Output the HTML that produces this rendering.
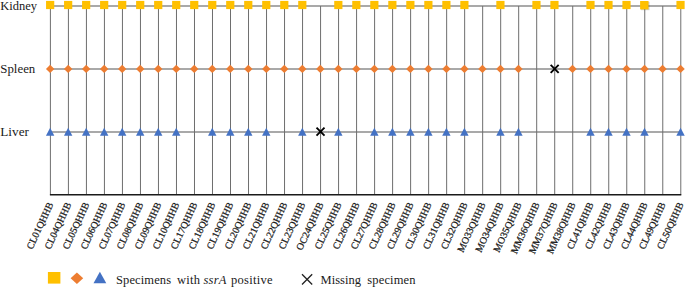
<!DOCTYPE html>
<html><head><meta charset="utf-8"><style>
html,body{margin:0;padding:0;background:#fff;}
body{width:685px;height:287px;overflow:hidden;}
svg{display:block;font-family:"Liberation Serif",serif;fill:#1a1a1a;}
text{fill:#1a1a1a;}
.xl{stroke:#1a1a1a;stroke-width:0.25px;}
</style></head><body>
<svg width="685" height="287" viewBox="0 0 685 287">
<line x1="50.4" y1="6.0" x2="680.785" y2="6.0" stroke="#a9a9a9" stroke-width="2.0"/>
<line x1="50.4" y1="69.0" x2="680.785" y2="69.0" stroke="#a9a9a9" stroke-width="2.0"/>
<line x1="50.4" y1="132.0" x2="680.785" y2="132.0" stroke="#a9a9a9" stroke-width="2.0"/>
<line x1="50.4" y1="6.0" x2="50.4" y2="194.75" stroke="#6e6e6e" stroke-width="1.0"/>
<line x1="68.411" y1="6.0" x2="68.411" y2="194.75" stroke="#6e6e6e" stroke-width="1.0"/>
<line x1="86.422" y1="6.0" x2="86.422" y2="194.75" stroke="#6e6e6e" stroke-width="1.0"/>
<line x1="104.433" y1="6.0" x2="104.433" y2="194.75" stroke="#6e6e6e" stroke-width="1.0"/>
<line x1="122.444" y1="6.0" x2="122.444" y2="194.75" stroke="#6e6e6e" stroke-width="1.0"/>
<line x1="140.455" y1="6.0" x2="140.455" y2="194.75" stroke="#6e6e6e" stroke-width="1.0"/>
<line x1="158.466" y1="6.0" x2="158.466" y2="194.75" stroke="#6e6e6e" stroke-width="1.0"/>
<line x1="176.477" y1="6.0" x2="176.477" y2="194.75" stroke="#6e6e6e" stroke-width="1.0"/>
<line x1="194.488" y1="6.0" x2="194.488" y2="194.75" stroke="#6e6e6e" stroke-width="1.0"/>
<line x1="212.499" y1="6.0" x2="212.499" y2="194.75" stroke="#6e6e6e" stroke-width="1.0"/>
<line x1="230.51" y1="6.0" x2="230.51" y2="194.75" stroke="#6e6e6e" stroke-width="1.0"/>
<line x1="248.521" y1="6.0" x2="248.521" y2="194.75" stroke="#6e6e6e" stroke-width="1.0"/>
<line x1="266.532" y1="6.0" x2="266.532" y2="194.75" stroke="#6e6e6e" stroke-width="1.0"/>
<line x1="284.543" y1="6.0" x2="284.543" y2="194.75" stroke="#6e6e6e" stroke-width="1.0"/>
<line x1="302.554" y1="6.0" x2="302.554" y2="194.75" stroke="#6e6e6e" stroke-width="1.0"/>
<line x1="320.565" y1="6.0" x2="320.565" y2="194.75" stroke="#6e6e6e" stroke-width="1.0"/>
<line x1="338.576" y1="6.0" x2="338.576" y2="194.75" stroke="#6e6e6e" stroke-width="1.0"/>
<line x1="356.587" y1="6.0" x2="356.587" y2="194.75" stroke="#6e6e6e" stroke-width="1.0"/>
<line x1="374.598" y1="6.0" x2="374.598" y2="194.75" stroke="#6e6e6e" stroke-width="1.0"/>
<line x1="392.609" y1="6.0" x2="392.609" y2="194.75" stroke="#6e6e6e" stroke-width="1.0"/>
<line x1="410.62" y1="6.0" x2="410.62" y2="194.75" stroke="#6e6e6e" stroke-width="1.0"/>
<line x1="428.631" y1="6.0" x2="428.631" y2="194.75" stroke="#6e6e6e" stroke-width="1.0"/>
<line x1="446.642" y1="6.0" x2="446.642" y2="194.75" stroke="#6e6e6e" stroke-width="1.0"/>
<line x1="464.653" y1="6.0" x2="464.653" y2="194.75" stroke="#6e6e6e" stroke-width="1.0"/>
<line x1="482.664" y1="6.0" x2="482.664" y2="194.75" stroke="#6e6e6e" stroke-width="1.0"/>
<line x1="500.675" y1="6.0" x2="500.675" y2="194.75" stroke="#6e6e6e" stroke-width="1.0"/>
<line x1="518.686" y1="6.0" x2="518.686" y2="194.75" stroke="#6e6e6e" stroke-width="1.0"/>
<line x1="536.697" y1="6.0" x2="536.697" y2="194.75" stroke="#6e6e6e" stroke-width="1.0"/>
<line x1="554.708" y1="6.0" x2="554.708" y2="194.75" stroke="#6e6e6e" stroke-width="1.0"/>
<line x1="572.719" y1="6.0" x2="572.719" y2="194.75" stroke="#6e6e6e" stroke-width="1.0"/>
<line x1="590.73" y1="6.0" x2="590.73" y2="194.75" stroke="#6e6e6e" stroke-width="1.0"/>
<line x1="608.741" y1="6.0" x2="608.741" y2="194.75" stroke="#6e6e6e" stroke-width="1.0"/>
<line x1="626.752" y1="6.0" x2="626.752" y2="194.75" stroke="#6e6e6e" stroke-width="1.0"/>
<line x1="644.763" y1="6.0" x2="644.763" y2="194.75" stroke="#6e6e6e" stroke-width="1.0"/>
<line x1="662.774" y1="6.0" x2="662.774" y2="194.75" stroke="#6e6e6e" stroke-width="1.0"/>
<line x1="680.785" y1="6.0" x2="680.785" y2="194.75" stroke="#6e6e6e" stroke-width="1.0"/>
<line x1="49.9" y1="194.75" x2="681.285" y2="194.75" stroke="#1a1a1a" stroke-width="1.5"/>
<rect x="46.05" y="0.90" width="8.20" height="8.20" fill="#FFC000"/>
<path d="M50.15 64.70L54.35 68.90L50.15 73.10L45.95 68.90Z" fill="#ED7D31"/>
<path d="M50.15 127.70L54.35 135.70L45.95 135.70Z" fill="#4472C4"/>
<rect x="64.06" y="0.90" width="8.20" height="8.20" fill="#FFC000"/>
<path d="M68.16 64.70L72.36 68.90L68.16 73.10L63.96 68.90Z" fill="#ED7D31"/>
<path d="M68.16 127.70L72.36 135.70L63.96 135.70Z" fill="#4472C4"/>
<rect x="82.07" y="0.90" width="8.20" height="8.20" fill="#FFC000"/>
<path d="M86.17 64.70L90.37 68.90L86.17 73.10L81.97 68.90Z" fill="#ED7D31"/>
<path d="M86.17 127.70L90.37 135.70L81.97 135.70Z" fill="#4472C4"/>
<rect x="100.08" y="0.90" width="8.20" height="8.20" fill="#FFC000"/>
<path d="M104.18 64.70L108.38 68.90L104.18 73.10L99.98 68.90Z" fill="#ED7D31"/>
<path d="M104.18 127.70L108.38 135.70L99.98 135.70Z" fill="#4472C4"/>
<rect x="118.09" y="0.90" width="8.20" height="8.20" fill="#FFC000"/>
<path d="M122.19 64.70L126.39 68.90L122.19 73.10L117.99 68.90Z" fill="#ED7D31"/>
<path d="M122.19 127.70L126.39 135.70L117.99 135.70Z" fill="#4472C4"/>
<rect x="136.11" y="0.90" width="8.20" height="8.20" fill="#FFC000"/>
<path d="M140.21 64.70L144.41 68.90L140.21 73.10L136.01 68.90Z" fill="#ED7D31"/>
<path d="M140.21 127.70L144.41 135.70L136.01 135.70Z" fill="#4472C4"/>
<rect x="154.12" y="0.90" width="8.20" height="8.20" fill="#FFC000"/>
<path d="M158.22 64.70L162.42 68.90L158.22 73.10L154.02 68.90Z" fill="#ED7D31"/>
<path d="M158.22 127.70L162.42 135.70L154.02 135.70Z" fill="#4472C4"/>
<rect x="172.13" y="0.90" width="8.20" height="8.20" fill="#FFC000"/>
<path d="M176.23 64.70L180.43 68.90L176.23 73.10L172.03 68.90Z" fill="#ED7D31"/>
<path d="M176.23 127.70L180.43 135.70L172.03 135.70Z" fill="#4472C4"/>
<rect x="190.14" y="0.90" width="8.20" height="8.20" fill="#FFC000"/>
<path d="M194.24 64.70L198.44 68.90L194.24 73.10L190.04 68.90Z" fill="#ED7D31"/>
<rect x="208.15" y="0.90" width="8.20" height="8.20" fill="#FFC000"/>
<path d="M212.25 64.70L216.45 68.90L212.25 73.10L208.05 68.90Z" fill="#ED7D31"/>
<path d="M212.25 127.70L216.45 135.70L208.05 135.70Z" fill="#4472C4"/>
<rect x="226.16" y="0.90" width="8.20" height="8.20" fill="#FFC000"/>
<path d="M230.26 64.70L234.46 68.90L230.26 73.10L226.06 68.90Z" fill="#ED7D31"/>
<path d="M230.26 127.70L234.46 135.70L226.06 135.70Z" fill="#4472C4"/>
<rect x="244.17" y="0.90" width="8.20" height="8.20" fill="#FFC000"/>
<path d="M248.27 64.70L252.47 68.90L248.27 73.10L244.07 68.90Z" fill="#ED7D31"/>
<path d="M248.27 127.70L252.47 135.70L244.07 135.70Z" fill="#4472C4"/>
<rect x="262.18" y="0.90" width="8.20" height="8.20" fill="#FFC000"/>
<path d="M266.28 64.70L270.48 68.90L266.28 73.10L262.08 68.90Z" fill="#ED7D31"/>
<path d="M266.28 127.70L270.48 135.70L262.08 135.70Z" fill="#4472C4"/>
<rect x="280.19" y="0.90" width="8.20" height="8.20" fill="#FFC000"/>
<path d="M284.29 64.70L288.49 68.90L284.29 73.10L280.09 68.90Z" fill="#ED7D31"/>
<rect x="298.20" y="0.90" width="8.20" height="8.20" fill="#FFC000"/>
<path d="M302.30 64.70L306.50 68.90L302.30 73.10L298.10 68.90Z" fill="#ED7D31"/>
<path d="M302.30 127.70L306.50 135.70L298.10 135.70Z" fill="#4472C4"/>
<path d="M320.31 64.70L324.51 68.90L320.31 73.10L316.12 68.90Z" fill="#ED7D31"/>
<path d="M316.51 127.70L324.51 135.70M324.51 127.70L316.51 135.70" stroke="#000" stroke-width="1.9" fill="none"/>
<rect x="334.23" y="0.90" width="8.20" height="8.20" fill="#FFC000"/>
<path d="M338.33 64.70L342.53 68.90L338.33 73.10L334.13 68.90Z" fill="#ED7D31"/>
<path d="M338.33 127.70L342.53 135.70L334.13 135.70Z" fill="#4472C4"/>
<rect x="352.24" y="0.90" width="8.20" height="8.20" fill="#FFC000"/>
<path d="M356.34 64.70L360.54 68.90L356.34 73.10L352.14 68.90Z" fill="#ED7D31"/>
<rect x="370.25" y="0.90" width="8.20" height="8.20" fill="#FFC000"/>
<path d="M374.35 64.70L378.55 68.90L374.35 73.10L370.15 68.90Z" fill="#ED7D31"/>
<path d="M374.35 127.70L378.55 135.70L370.15 135.70Z" fill="#4472C4"/>
<rect x="388.26" y="0.90" width="8.20" height="8.20" fill="#FFC000"/>
<path d="M392.36 64.70L396.56 68.90L392.36 73.10L388.16 68.90Z" fill="#ED7D31"/>
<path d="M392.36 127.70L396.56 135.70L388.16 135.70Z" fill="#4472C4"/>
<rect x="406.27" y="0.90" width="8.20" height="8.20" fill="#FFC000"/>
<path d="M410.37 64.70L414.57 68.90L410.37 73.10L406.17 68.90Z" fill="#ED7D31"/>
<path d="M410.37 127.70L414.57 135.70L406.17 135.70Z" fill="#4472C4"/>
<rect x="424.28" y="0.90" width="8.20" height="8.20" fill="#FFC000"/>
<path d="M428.38 64.70L432.58 68.90L428.38 73.10L424.18 68.90Z" fill="#ED7D31"/>
<path d="M428.38 127.70L432.58 135.70L424.18 135.70Z" fill="#4472C4"/>
<rect x="442.29" y="0.90" width="8.20" height="8.20" fill="#FFC000"/>
<path d="M446.39 64.70L450.59 68.90L446.39 73.10L442.19 68.90Z" fill="#ED7D31"/>
<path d="M446.39 127.70L450.59 135.70L442.19 135.70Z" fill="#4472C4"/>
<rect x="460.30" y="0.90" width="8.20" height="8.20" fill="#FFC000"/>
<path d="M464.40 64.70L468.60 68.90L464.40 73.10L460.20 68.90Z" fill="#ED7D31"/>
<path d="M464.40 127.70L468.60 135.70L460.20 135.70Z" fill="#4472C4"/>
<path d="M482.41 64.70L486.61 68.90L482.41 73.10L478.21 68.90Z" fill="#ED7D31"/>
<rect x="496.32" y="0.90" width="8.20" height="8.20" fill="#FFC000"/>
<path d="M500.43 64.70L504.62 68.90L500.43 73.10L496.23 68.90Z" fill="#ED7D31"/>
<path d="M500.43 127.70L504.62 135.70L496.23 135.70Z" fill="#4472C4"/>
<path d="M518.44 64.70L522.64 68.90L518.44 73.10L514.24 68.90Z" fill="#ED7D31"/>
<path d="M518.44 127.70L522.64 135.70L514.24 135.70Z" fill="#4472C4"/>
<rect x="532.35" y="0.90" width="8.20" height="8.20" fill="#FFC000"/>
<rect x="550.36" y="0.90" width="8.20" height="8.20" fill="#FFC000"/>
<path d="M550.66 64.80L558.66 72.80M558.66 64.80L550.66 72.80" stroke="#000" stroke-width="1.9" fill="none"/>
<path d="M572.47 64.70L576.67 68.90L572.47 73.10L568.27 68.90Z" fill="#ED7D31"/>
<rect x="586.38" y="0.90" width="8.20" height="8.20" fill="#FFC000"/>
<path d="M590.48 64.70L594.68 68.90L590.48 73.10L586.28 68.90Z" fill="#ED7D31"/>
<path d="M590.48 127.70L594.68 135.70L586.28 135.70Z" fill="#4472C4"/>
<rect x="604.39" y="0.90" width="8.20" height="8.20" fill="#FFC000"/>
<path d="M608.49 64.70L612.69 68.90L608.49 73.10L604.29 68.90Z" fill="#ED7D31"/>
<path d="M608.49 127.70L612.69 135.70L604.29 135.70Z" fill="#4472C4"/>
<rect x="622.40" y="0.90" width="8.20" height="8.20" fill="#FFC000"/>
<path d="M626.50 64.70L630.70 68.90L626.50 73.10L622.30 68.90Z" fill="#ED7D31"/>
<path d="M626.50 127.70L630.70 135.70L622.30 135.70Z" fill="#4472C4"/>
<rect x="640.91" y="1.8" width="8.6" height="8.4" fill="#000" opacity="0.18" style="filter:blur(0.6px)"/>
<rect x="640.11" y="1.00" width="8.40" height="8.40" fill="#FFC000"/>
<path d="M644.51 64.70L648.71 68.90L644.51 73.10L640.31 68.90Z" fill="#ED7D31"/>
<path d="M644.51 127.70L648.71 135.70L640.31 135.70Z" fill="#4472C4"/>
<path d="M662.52 64.70L666.72 68.90L662.52 73.10L658.32 68.90Z" fill="#ED7D31"/>
<rect x="676.43" y="0.90" width="8.20" height="8.20" fill="#FFC000"/>
<path d="M680.53 64.70L684.74 68.90L680.53 73.10L676.33 68.90Z" fill="#ED7D31"/>
<path d="M680.53 127.70L684.74 135.70L676.33 135.70Z" fill="#4472C4"/>
<text x="0.3" y="10.3" font-size="13.2" textLength="36.8" lengthAdjust="spacingAndGlyphs">Kidney</text>
<text x="0.3" y="73.4" font-size="13.2" textLength="35.0" lengthAdjust="spacingAndGlyphs">Spleen</text>
<text x="0.3" y="136.4" font-size="13.2" textLength="28.6" lengthAdjust="spacingAndGlyphs">Liver</text>
<text x="53.50" y="204.25" font-size="9.9" text-anchor="end" class="xl" transform="rotate(-65 53.50 204.25)">CL01QHHB</text>
<text x="71.51" y="204.25" font-size="9.9" text-anchor="end" class="xl" transform="rotate(-65 71.51 204.25)">CL04QHHB</text>
<text x="89.52" y="204.25" font-size="9.9" text-anchor="end" class="xl" transform="rotate(-65 89.52 204.25)">CL05QHHB</text>
<text x="107.53" y="204.25" font-size="9.9" text-anchor="end" class="xl" transform="rotate(-65 107.53 204.25)">CL06QHHB</text>
<text x="125.54" y="204.25" font-size="9.9" text-anchor="end" class="xl" transform="rotate(-65 125.54 204.25)">CL07QHHB</text>
<text x="143.56" y="204.25" font-size="9.9" text-anchor="end" class="xl" transform="rotate(-65 143.56 204.25)">CL08QHHB</text>
<text x="161.57" y="204.25" font-size="9.9" text-anchor="end" class="xl" transform="rotate(-65 161.57 204.25)">CL09QHHB</text>
<text x="179.58" y="204.25" font-size="9.9" text-anchor="end" class="xl" transform="rotate(-65 179.58 204.25)">CL10QHHB</text>
<text x="197.59" y="204.25" font-size="9.9" text-anchor="end" class="xl" transform="rotate(-65 197.59 204.25)">CL17QHHB</text>
<text x="215.60" y="204.25" font-size="9.9" text-anchor="end" class="xl" transform="rotate(-65 215.60 204.25)">CL18QHHB</text>
<text x="233.61" y="204.25" font-size="9.9" text-anchor="end" class="xl" transform="rotate(-65 233.61 204.25)">CL19QHHB</text>
<text x="251.62" y="204.25" font-size="9.9" text-anchor="end" class="xl" transform="rotate(-65 251.62 204.25)">CL20QHHB</text>
<text x="269.63" y="204.25" font-size="9.9" text-anchor="end" class="xl" transform="rotate(-65 269.63 204.25)">CL21QHHB</text>
<text x="287.64" y="204.25" font-size="9.9" text-anchor="end" class="xl" transform="rotate(-65 287.64 204.25)">CL22QHHB</text>
<text x="305.65" y="204.25" font-size="9.9" text-anchor="end" class="xl" transform="rotate(-65 305.65 204.25)">CL23QHHB</text>
<text x="323.67" y="204.25" font-size="9.9" text-anchor="end" class="xl" transform="rotate(-65 323.67 204.25)">OC24QHHB</text>
<text x="341.68" y="204.25" font-size="9.9" text-anchor="end" class="xl" transform="rotate(-65 341.68 204.25)">CL25QHHB</text>
<text x="359.69" y="204.25" font-size="9.9" text-anchor="end" class="xl" transform="rotate(-65 359.69 204.25)">CL26QHHB</text>
<text x="377.70" y="204.25" font-size="9.9" text-anchor="end" class="xl" transform="rotate(-65 377.70 204.25)">CL27QHHB</text>
<text x="395.71" y="204.25" font-size="9.9" text-anchor="end" class="xl" transform="rotate(-65 395.71 204.25)">CL28QHHB</text>
<text x="413.72" y="204.25" font-size="9.9" text-anchor="end" class="xl" transform="rotate(-65 413.72 204.25)">CL29QHHB</text>
<text x="431.73" y="204.25" font-size="9.9" text-anchor="end" class="xl" transform="rotate(-65 431.73 204.25)">CL30QHHB</text>
<text x="449.74" y="204.25" font-size="9.9" text-anchor="end" class="xl" transform="rotate(-65 449.74 204.25)">CL31QHHB</text>
<text x="467.75" y="204.25" font-size="9.9" text-anchor="end" class="xl" transform="rotate(-65 467.75 204.25)">CL32QHHB</text>
<text x="485.76" y="204.25" font-size="9.9" text-anchor="end" class="xl" transform="rotate(-65 485.76 204.25)">MO33QHHB</text>
<text x="503.78" y="204.25" font-size="9.9" text-anchor="end" class="xl" transform="rotate(-65 503.78 204.25)">MO34QHHB</text>
<text x="521.79" y="204.25" font-size="9.9" text-anchor="end" class="xl" transform="rotate(-65 521.79 204.25)">MO35QHHB</text>
<text x="539.80" y="204.25" font-size="9.9" text-anchor="end" class="xl" transform="rotate(-65 539.80 204.25)">MM36QHHB</text>
<text x="557.81" y="204.25" font-size="9.9" text-anchor="end" class="xl" transform="rotate(-65 557.81 204.25)">MM37QHHB</text>
<text x="575.82" y="204.25" font-size="9.9" text-anchor="end" class="xl" transform="rotate(-65 575.82 204.25)">MM38QHHB</text>
<text x="593.83" y="204.25" font-size="9.9" text-anchor="end" class="xl" transform="rotate(-65 593.83 204.25)">CL41QHHB</text>
<text x="611.84" y="204.25" font-size="9.9" text-anchor="end" class="xl" transform="rotate(-65 611.84 204.25)">CL42QHHB</text>
<text x="629.85" y="204.25" font-size="9.9" text-anchor="end" class="xl" transform="rotate(-65 629.85 204.25)">CL43QHHB</text>
<text x="647.86" y="204.25" font-size="9.9" text-anchor="end" class="xl" transform="rotate(-65 647.86 204.25)">CL44QHHB</text>
<text x="665.87" y="204.25" font-size="9.9" text-anchor="end" class="xl" transform="rotate(-65 665.87 204.25)">CL49QHHB</text>
<text x="683.88" y="204.25" font-size="9.9" text-anchor="end" class="xl" transform="rotate(-65 683.88 204.25)">CL50QHHB</text>
<rect x="47.9" y="272.0" width="12.5" height="11.6" fill="#FFC000"/>
<path d="M76.9 272.6L83.2 278.25L76.9 283.9L70.6 278.25Z" fill="#ED7D31"/>
<path d="M99.9 271.8L106.3 283.3L93.5 283.3Z" fill="#4472C4"/>
<text x="116.0" y="283.9" font-size="12.5" font-style="normal" textLength="55.07" lengthAdjust="spacing">Specimens</text>
<text x="177.0" y="283.9" font-size="12.5" font-style="normal" textLength="22.93" lengthAdjust="spacing">with</text>
<text x="203.5" y="283.9" font-size="12.5" font-style="italic" textLength="22.83" lengthAdjust="spacing">ssrA</text>
<text x="231.0" y="283.9" font-size="12.5" font-style="normal" textLength="41.59" lengthAdjust="spacing">positive</text>
<text x="320.5" y="283.9" font-size="12.5" font-style="normal" textLength="40.4" lengthAdjust="spacing">Missing</text>
<text x="367.3" y="283.9" font-size="12.5" font-style="normal" textLength="48.22" lengthAdjust="spacing">specimen</text>
<path d="M302.00 274.30L312.20 284.50M312.20 274.30L302.00 284.50" stroke="#222" stroke-width="1.3" fill="none"/>
</svg>
</body></html>
